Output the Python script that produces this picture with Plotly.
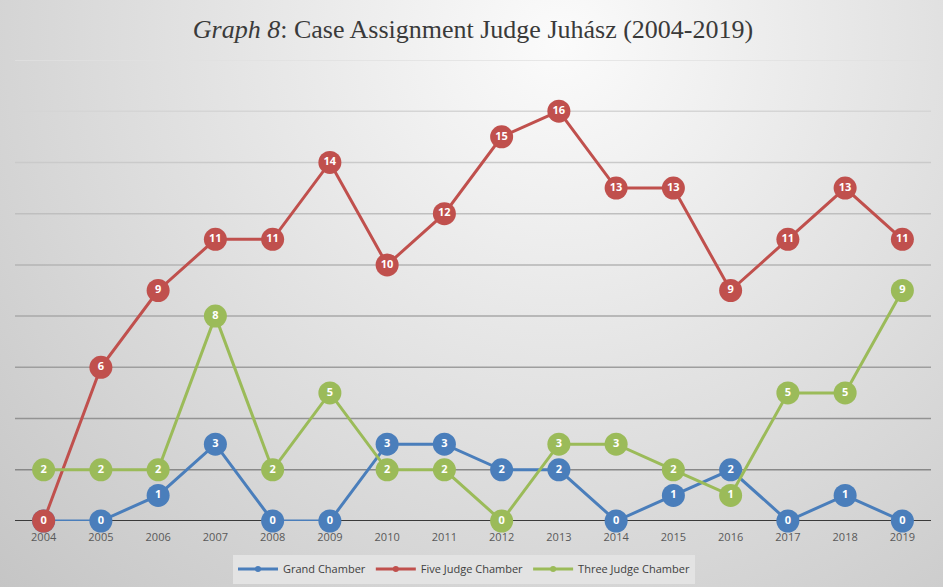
import base64
import plotly.graph_objects as go

years = [str(y) for y in range(2004, 2020)]
grand_chamber = [0, 0, 1, 3, 0, 0, 3, 3, 2, 2, 0, 1, 2, 0, 1, 0]
five_judge = [0, 6, 9, 11, 11, 14, 10, 12, 15, 16, 13, 13, 9, 11, 13, 11]
three_judge = [2, 2, 2, 8, 2, 5, 2, 2, 0, 3, 3, 2, 1, 5, 5, 9]
series_names = ["Grand Chamber", "Five Judge Chamber", "Three Judge Chamber"]
series_colors = ["#4a7ebb", "#c0504d", "#9bbb59"]
grid_values = [2, 4, 6, 8, 10, 12, 14, 16, 18]

W, H = 943, 587
ML, MR, MT, MB = 15, 12, 60, 66
PW, PH = W - ML - MR, H - MT - MB

svg = f'''<svg xmlns="http://www.w3.org/2000/svg" width="{W}" height="{H}" viewBox="0 0 {W} {H}">
<defs><radialGradient id="g" gradientUnits="userSpaceOnUse" cx="560" cy="40" r="800">
<stop offset="0" stop-color="#fbfbfb"/><stop offset="1" stop-color="#c4c4c4"/></radialGradient></defs>
<rect width="{W}" height="{H}" fill="url(#g)"/></svg>'''
bg_src = "data:image/svg+xml;base64," + base64.b64encode(svg.encode()).decode()

fig = go.Figure()

for name, vals, col in zip(series_names, [grand_chamber, five_judge, three_judge], series_colors):
    fig.add_trace(go.Scatter(
        x=years, y=vals, mode="lines+markers+text", name=name,
        line=dict(color=col, width=3),
        marker=dict(size=23, color=col),
        text=[str(v) for v in vals], textposition="middle center",
        textfont=dict(family="Open Sans", size=11, color="white", weight="bold"),
        showlegend=False, cliponaxis=False,
    ))

for name, col in zip(series_names, series_colors):
    fig.add_trace(go.Scatter(
        x=[None], y=[None], mode="lines+markers", name=name,
        line=dict(color=col, width=3), marker=dict(size=6, color=col),
    ))

shapes = []
for v in grid_values:
    t = (v - 2) / 16
    c = int(round(0x88 + t * (0xe0 - 0x88)))
    shapes.append(dict(type="line", xref="paper", yref="y", x0=0, x1=1, y0=v, y1=v,
                       line=dict(color=f"rgb({c},{c},{c})", width=1.5), layer="below"))
shapes.append(dict(type="line", xref="paper", yref="y", x0=0, x1=1, y0=0, y1=0,
                   line=dict(color="#3a3a3a", width=2), layer="below"))

fig.update_layout(
    width=W, height=H,
    margin=dict(l=ML, r=MR, t=MT, b=MB, autoexpand=False),
    paper_bgcolor="#d8d8d8", plot_bgcolor="rgba(0,0,0,0)",
    images=[dict(source=bg_src, xref="paper", yref="paper",
                 x=-ML / PW, y=1 + MT / PH, sizex=W / PW, sizey=H / PH,
                 sizing="stretch", xanchor="left", yanchor="top", layer="below")],
    shapes=shapes,
    title=dict(text="<i>Graph 8</i>: Case Assignment Judge Juhász (2004-2019)",
               x=(473 - ML) / PW, xref="paper", xanchor="center", y=1 - 29 / H, yanchor="middle",
               font=dict(family="Liberation Serif", size=26, color="#3a3a3a")),
    xaxis=dict(type="category", range=[-0.5, 15.5], showgrid=False, zeroline=False,
               showline=False, ticks="", tickfont=dict(family="Open Sans", size=11, color="#595959"),
               ticklabelstandoff=8, fixedrange=True),
    yaxis=dict(range=[0, 18], showgrid=False, zeroline=False, showticklabels=False,
               showline=False, ticks="", fixedrange=True),
    legend=dict(orientation="h", x=(464 - ML) / PW, xanchor="center", y=-(569 - (MT + PH)) / PH,
                yanchor="middle", bgcolor="#e3e3e3",
                font=dict(family="Open Sans", size=11, color="#404040"),
                itemwidth=40, tracegroupgap=0),
    showlegend=True,
)

fig.write_html("out.html", config={"displayModeBar": False},
               post_script="document.body.style.margin='0';document.body.style.padding='0';")
